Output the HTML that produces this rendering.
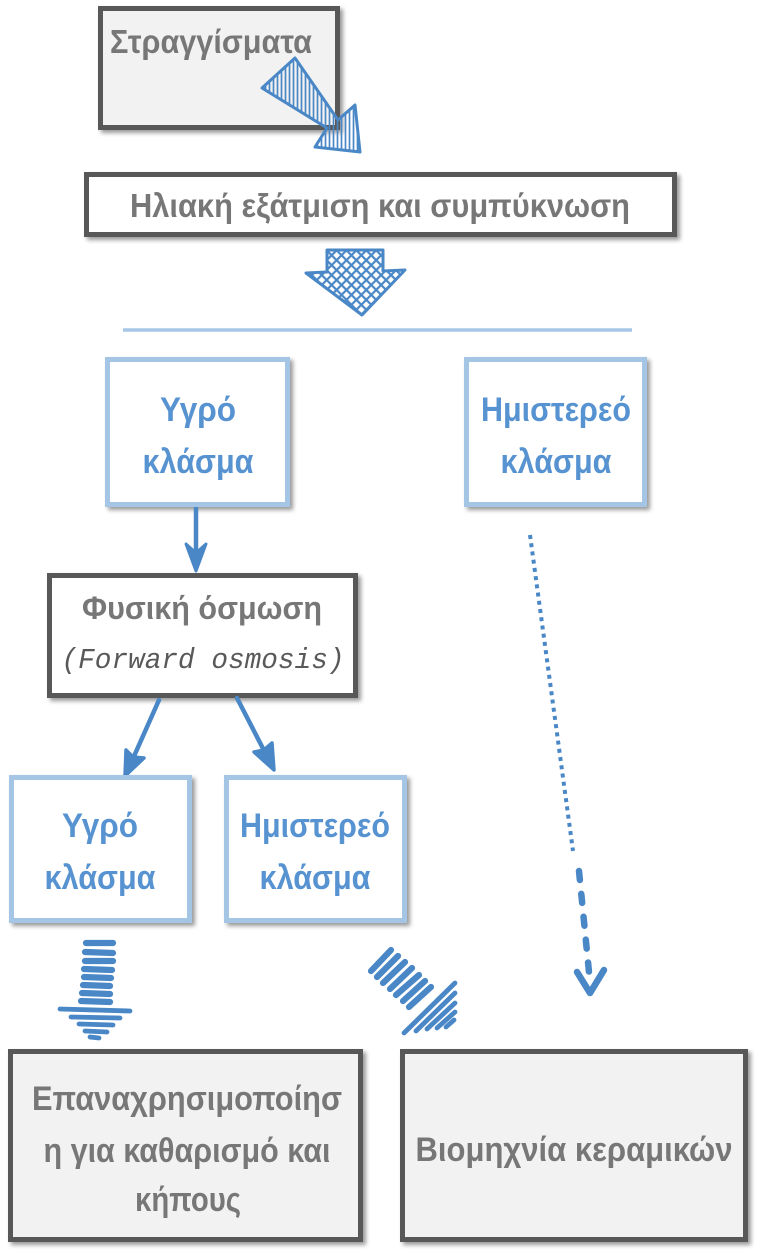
<!DOCTYPE html>
<html><head><meta charset="utf-8"><style>
html,body{margin:0;padding:0;background:#fff;}
svg{display:block;}
.g{font-family:"Liberation Sans","DejaVu Sans",sans-serif;font-weight:bold;fill:#777777;}
.b{font-family:"Liberation Sans","DejaVu Sans",sans-serif;font-weight:bold;fill:#5793d1;}
</style></head><body>
<svg width="763" height="1251" viewBox="0 0 763 1251" xmlns="http://www.w3.org/2000/svg">
<defs>
<filter id="sh" x="-10%" y="-10%" width="130%" height="130%">
<feDropShadow dx="3" dy="3" stdDeviation="2" flood-color="#000" flood-opacity="0.4"/>
</filter>
<pattern id="vh" width="4" height="4" patternUnits="userSpaceOnUse">
<line x1="1.5" y1="0" x2="1.5" y2="4" stroke="#4a87c6" stroke-width="1.7"/>
</pattern>
<pattern id="xh" width="7" height="7" patternUnits="userSpaceOnUse" patternTransform="rotate(45)">
<line x1="2" y1="0" x2="2" y2="7" stroke="#4a87c6" stroke-width="2.2"/>
<line x1="0" y1="2" x2="7" y2="2" stroke="#4a87c6" stroke-width="2.2"/>
</pattern>
</defs>

<!-- Box 1 -->
<rect x="100.5" y="8.5" width="237" height="119" fill="#f2f2f2" stroke="#595959" stroke-width="5" filter="url(#sh)"/>
<text class="g" x="110" y="53" font-size="33" textLength="202" lengthAdjust="spacingAndGlyphs">Στραγγίσματα</text>

<!-- hatched arrow 1 -->
<polygon points="262,88 295,58 338,120 355,105 360,152 315,147 327,128" fill="url(#vh)" stroke="#4a87c6" stroke-width="3" stroke-linejoin="round"/>

<!-- Box 2 -->
<rect x="86.5" y="174.5" width="588" height="60" fill="#ffffff" stroke="#595959" stroke-width="5" filter="url(#sh)"/>
<text class="g" x="130" y="217" font-size="33" textLength="500" lengthAdjust="spacingAndGlyphs">Ηλιακή εξάτμιση και συμπύκνωση</text>

<!-- crosshatch arrow -->
<polygon points="327,250 383,250 383,271 405,270 362,315 306,273 327,272" fill="url(#xh)" stroke="#4a87c6" stroke-width="3" stroke-linejoin="round"/>

<!-- line -->
<line x1="123" y1="330" x2="632" y2="330" stroke="#a7c7e7" stroke-width="3.5"/>

<!-- top blue boxes -->
<rect x="107.5" y="359.5" width="180" height="145" fill="#fff" stroke="#a5c5e4" stroke-width="5" filter="url(#sh)"/>
<text class="b" x="198" y="421" font-size="34" text-anchor="middle" textLength="76" lengthAdjust="spacingAndGlyphs">Υγρό</text>
<text class="b" x="198" y="473" font-size="34" text-anchor="middle" textLength="111" lengthAdjust="spacingAndGlyphs">κλάσμα</text>

<rect x="466.5" y="359.5" width="178" height="145" fill="#fff" stroke="#a5c5e4" stroke-width="5" filter="url(#sh)"/>
<text class="b" x="556" y="421" font-size="34" text-anchor="middle" textLength="150" lengthAdjust="spacingAndGlyphs">Ημιστερεό</text>
<text class="b" x="556" y="473" font-size="34" text-anchor="middle" textLength="111" lengthAdjust="spacingAndGlyphs">κλάσμα</text>

<!-- vertical arrow -->
<line x1="196" y1="507" x2="196" y2="566" stroke="#4a87c6" stroke-width="4.5"/>
<polygon points="186,544 196,571 206,544 196,553" fill="#4a87c6" stroke="#4a87c6" stroke-width="3" stroke-linejoin="round"/>

<!-- Φυσική όσμωση -->
<rect x="49.5" y="575.5" width="306" height="120" fill="#fff" stroke="#595959" stroke-width="5" filter="url(#sh)"/>
<text class="g" x="202" y="619" font-size="32" text-anchor="middle" textLength="240" lengthAdjust="spacingAndGlyphs">Φυσική όσμωση</text>
<text x="203" y="668" font-family="'Liberation Mono','DejaVu Sans Mono',monospace" font-style="italic" font-size="29" fill="#595959" text-anchor="middle" textLength="283" lengthAdjust="spacingAndGlyphs">(Forward osmosis)</text>

<!-- diagonal arrows -->
<line x1="159" y1="700" x2="127" y2="772" stroke="#4a87c6" stroke-width="4.5" stroke-linecap="round"/>
<polygon points="126,750 125,776 144,758 133,757" fill="#4a87c6" stroke="#4a87c6" stroke-width="3.5" stroke-linejoin="round"/>
<line x1="237" y1="698" x2="272" y2="766" stroke="#4a87c6" stroke-width="4.5" stroke-linecap="round"/>
<polygon points="254,752 274,770 272,743 264,750" fill="#4a87c6" stroke="#4a87c6" stroke-width="3.5" stroke-linejoin="round"/>

<!-- small blue boxes -->
<rect x="11.5" y="777.5" width="178" height="143" fill="#fff" stroke="#a5c5e4" stroke-width="5" filter="url(#sh)"/>
<text class="b" x="100" y="837" font-size="34" text-anchor="middle" textLength="76" lengthAdjust="spacingAndGlyphs">Υγρό</text>
<text class="b" x="100" y="889" font-size="34" text-anchor="middle" textLength="111" lengthAdjust="spacingAndGlyphs">κλάσμα</text>

<rect x="226.5" y="777.5" width="178" height="143" fill="#fff" stroke="#a5c5e4" stroke-width="5" filter="url(#sh)"/>
<text class="b" x="315" y="837" font-size="34" text-anchor="middle" textLength="150" lengthAdjust="spacingAndGlyphs">Ημιστερεό</text>
<text class="b" x="315" y="889" font-size="34" text-anchor="middle" textLength="111" lengthAdjust="spacingAndGlyphs">κλάσμα</text>

<!-- dotted / dashed connector -->
<line x1="530" y1="535" x2="573" y2="851" stroke="#4a87c6" stroke-width="4" stroke-dasharray="4 4.3"/>
<line x1="579" y1="871" x2="589" y2="972" stroke="#4a87c6" stroke-width="6.5" stroke-linecap="round" stroke-dasharray="9 14"/>
<polyline points="577,972 590,993 604,970" fill="none" stroke="#4a87c6" stroke-width="6.5" stroke-linecap="round" stroke-linejoin="round"/>

<!-- striped down arrow -->
<g stroke="#4a87c6" stroke-linecap="round" fill="none">
<g stroke-width="6.2">
<line x1="86" y1="943" x2="113" y2="943"/>
<line x1="85" y1="952" x2="113" y2="953"/>
<line x1="85" y1="961" x2="113" y2="961"/>
<line x1="84" y1="969" x2="112" y2="970"/>
<line x1="84" y1="977" x2="111" y2="978"/>
<line x1="83" y1="985" x2="110" y2="986"/>
<line x1="82" y1="993" x2="110" y2="994"/>
<line x1="81" y1="1001" x2="110" y2="1002"/>
</g>
<g stroke-width="4.8">
<line x1="60" y1="1009" x2="130" y2="1011"/>
<line x1="71" y1="1017" x2="120" y2="1018"/>
<line x1="79" y1="1024" x2="113" y2="1025"/>
<line x1="85" y1="1031" x2="107" y2="1032"/>
<line x1="90" y1="1037" x2="99" y2="1038"/>
</g>
</g>

<!-- striped diagonal arrow -->
<g stroke="#4a87c6" stroke-linecap="round" fill="none">
<g stroke-width="6.2">
<line x1="371" y1="971" x2="391" y2="950"/>
<line x1="377" y1="977" x2="398" y2="956"/>
<line x1="383" y1="983" x2="405" y2="962"/>
<line x1="390" y1="989" x2="412" y2="968"/>
<line x1="396" y1="995" x2="419" y2="975"/>
<line x1="403" y1="1001" x2="425" y2="981"/>
<line x1="409" y1="1007" x2="431" y2="987"/>
</g>
<g stroke-width="4.8">
<line x1="404" y1="1033" x2="455" y2="983"/>
<line x1="416" y1="1031" x2="455" y2="993"/>
<line x1="427" y1="1029" x2="455" y2="1003"/>
<line x1="437" y1="1028" x2="455" y2="1012"/>
<line x1="446" y1="1027" x2="454" y2="1020"/>
</g>
</g>

<!-- bottom boxes -->
<rect x="10.5" y="1051.5" width="350" height="188" fill="#f2f2f2" stroke="#595959" stroke-width="5" filter="url(#sh)"/>
<text class="g" x="187" y="1110" font-size="34" text-anchor="middle" textLength="310" lengthAdjust="spacingAndGlyphs">Επαναχρησιμοποίησ</text>
<text class="g" x="187" y="1162" font-size="34" text-anchor="middle" textLength="287" lengthAdjust="spacingAndGlyphs">η για καθαρισμό και</text>
<text class="g" x="188" y="1211" font-size="34" text-anchor="middle" textLength="106" lengthAdjust="spacingAndGlyphs">κήπους</text>

<rect x="402.5" y="1051.5" width="343" height="188" fill="#f2f2f2" stroke="#595959" stroke-width="5" filter="url(#sh)"/>
<text class="g" x="574" y="1161" font-size="34" text-anchor="middle" textLength="317" lengthAdjust="spacingAndGlyphs">Βιομηχνία κεραμικών</text>
</svg>
</body></html>
